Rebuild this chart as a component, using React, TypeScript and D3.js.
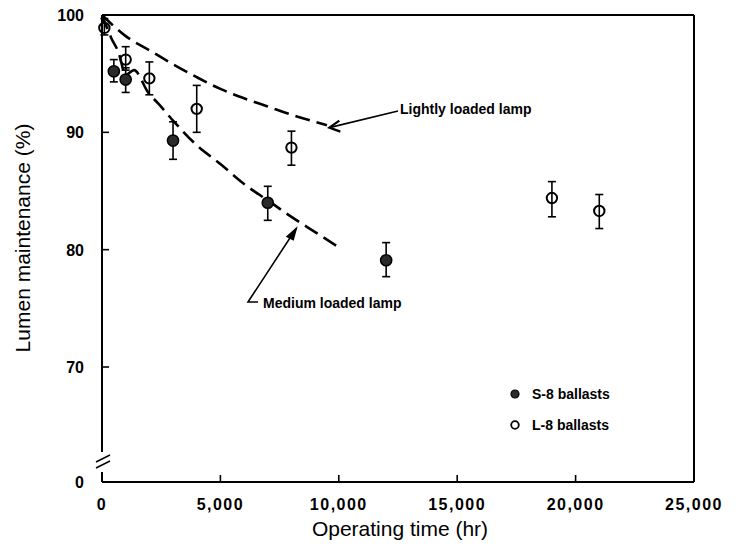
import React from 'react';
import * as d3 from 'd3';

// S-8 ballasts (filled markers)
const s8Hours = [500, 1000, 3000, 7000, 12000];
const s8Value = [95.2, 94.5, 89.3, 84.0, 79.1];
const s8High = [96.2, 95.5, 90.9, 85.4, 80.6];
const s8Low = [94.3, 93.4, 87.7, 82.5, 77.7];

// L-8 ballasts (open markers)
const l8Hours = [100, 1000, 2000, 4000, 8000, 19000, 21000];
const l8Value = [98.9, 96.2, 94.6, 92.0, 88.7, 84.4, 83.3];
const l8High = [99.7, 97.3, 96.0, 94.0, 90.1, 85.8, 84.7];
const l8Low = [98.3, 95.3, 93.2, 90.0, 87.2, 82.8, 81.8];

// fitted curves
const lightHours = [0, 1000, 2000, 3000, 4000, 5000, 6000, 7000, 8000, 9000, 9500];
const lightValue = [100, 98.2, 97.0, 95.8, 94.7, 93.7, 92.9, 92.2, 91.5, 90.9, 90.6];
const mediumHours = [0, 400, 700, 1000, 1350, 1950, 2400, 3000, 4000, 5000, 6000, 7000, 8000, 9000, 10000];
const mediumValue = [100, 98.0, 96.8, 94.9, 95.3, 93.4, 92.4, 91.0, 88.9, 87.3, 85.6, 84.2, 82.8, 81.5, 80.2];

const xTicks = [0, 5000, 10000, 15000, 20000, 25000];
const yTicks = [70, 80, 90, 100];

const font = '"Liberation Sans", Arial, sans-serif';

export default function App() {
  const x = d3.scaleLinear().domain([0, 25000]).range([102, 694]);
  const y = d3.scaleLinear().domain([70, 100]).range([367, 15]);
  const bottom = 482;
  const left = x(0);
  const right = x(25000);
  const top = y(100);

  const line = d3.line<[number, number]>()
    .x(d => x(d[0]))
    .y(d => y(d[1]))
    .curve(d3.curveMonotoneX);

  const light = line(lightHours.map((h, i) => [h, lightValue[i]]));
  const medium = line(mediumHours.map((h, i) => [h, mediumValue[i]]));

  const fmt = d3.format(',');

  const errBar = (h: number, lo: number, hi: number, key: string) => (
    <g key={key} stroke="#000" strokeWidth={1.6}>
      <line x1={x(h)} x2={x(h)} y1={y(hi)} y2={y(lo)} />
      <line x1={x(h) - 4} x2={x(h) + 4} y1={y(hi)} y2={y(hi)} />
      <line x1={x(h) - 4} x2={x(h) + 4} y1={y(lo)} y2={y(lo)} />
    </g>
  );

  // annotation anchors
  const lightTip = [x(9600), y(90.4)];
  const medTip = [x(8200), y(81.8)];

  return (
    <svg width={741} height={548} style={{ position: 'absolute', left: 0, top: 0, background: '#fff' }}>
      {/* frame */}
      <g stroke="#000" strokeWidth={2} fill="none">
        <line x1={left} x2={right} y1={top} y2={top} />
        <line x1={right} x2={right} y1={top} y2={bottom} />
        <line x1={left} x2={right} y1={bottom} y2={bottom} />
        <line x1={left} x2={left} y1={top} y2={452} />
        <line x1={left} x2={left} y1={472} y2={bottom} />
        <line x1={left - 6} x2={left + 8} y1={462} y2={455} strokeWidth={1.4} />
        <line x1={left - 6} x2={left + 8} y1={468} y2={461} strokeWidth={1.4} />
      </g>

      {/* ticks */}
      <g stroke="#000" strokeWidth={1.6}>
        {xTicks.slice(1, -1).map(t => (
          <line key={t} x1={x(t)} x2={x(t)} y1={bottom} y2={bottom - 7} />
        ))}
        {yTicks.slice(0, -1).map(t => (
          <line key={t} x1={left} x2={left + 7} y1={y(t)} y2={y(t)} />
        ))}
      </g>

      <g fontFamily={font} fontWeight="bold" fontSize={16} fill="#000">
        {xTicks.map(t => (
          <text key={t} x={x(t)} y={510} textAnchor="middle" letterSpacing={1.5}>{fmt(t)}</text>
        ))}
        {yTicks.map(t => (
          <text key={t} x={84} y={y(t) + 6} textAnchor="end">{t}</text>
        ))}
        <text x={84} y={bottom + 6} textAnchor="end">0</text>
      </g>

      <text x={400} y={536} textAnchor="middle" fontFamily={font} fontSize={21}>Operating time (hr)</text>
      <text transform={`translate(30,238) rotate(-90)`} textAnchor="middle" fontFamily={font} fontSize={21}>
        Lumen maintenance (%)
      </text>

      {/* curves */}
      <path d={light ?? ''} fill="none" stroke="#000" strokeWidth={2.6} strokeDasharray="15 7" />
      <path d={medium ?? ''} fill="none" stroke="#000" strokeWidth={2.6} strokeDasharray="15 7" />

      {/* error bars and markers */}
      {l8Hours.map((h, i) => errBar(h, l8Low[i], l8High[i], 'l' + i))}
      {s8Hours.map((h, i) => errBar(h, s8Low[i], s8High[i], 's' + i))}
      {l8Hours.map((h, i) => (
        <circle key={'lc' + i} cx={x(h)} cy={y(l8Value[i])} r={5.2} fill="none" stroke="#000" strokeWidth={2} />
      ))}
      {s8Hours.map((h, i) => (
        <circle key={'sc' + i} cx={x(h)} cy={y(s8Value[i])} r={5.6} fill="#2a2a2a" stroke="#000" strokeWidth={1.5} />
      ))}

      {/* annotations */}
      <g stroke="#000" strokeWidth={1.6} fill="none">
        <line x1={398} y1={111} x2={lightTip[0]} y2={lightTip[1]} />
        <polyline points={`${lightTip[0] + 10},${lightTip[1] - 7} ${lightTip[0]},${lightTip[1]} ${lightTip[0] + 11},${lightTip[1] + 4}`} strokeWidth={2.2} />
        <polyline points={`258,302 248,302 ${medTip[0]},${medTip[1]}`} />
        <polygon points={`${medTip[0]},${medTip[1]} ${medTip[0] - 9},${medTip[1] + 8} ${medTip[0] - 3},${medTip[1] + 11}`} fill="#000" />
      </g>
      <g fontFamily={font} fontWeight="bold" fontSize={14} fill="#000">
        <text x={400} y={114}>Lightly loaded lamp</text>
        <text x={263} y={308}>Medium loaded lamp</text>
        <text x={532} y={399}>S-8 ballasts</text>
        <text x={532} y={430}>L-8 ballasts</text>
      </g>
      <circle cx={515} cy={394} r={4} fill="#2a2a2a" stroke="#000" strokeWidth={1.2} />
      <circle cx={515} cy={425} r={3.8} fill="none" stroke="#000" strokeWidth={1.8} />
    </svg>
  );
}
